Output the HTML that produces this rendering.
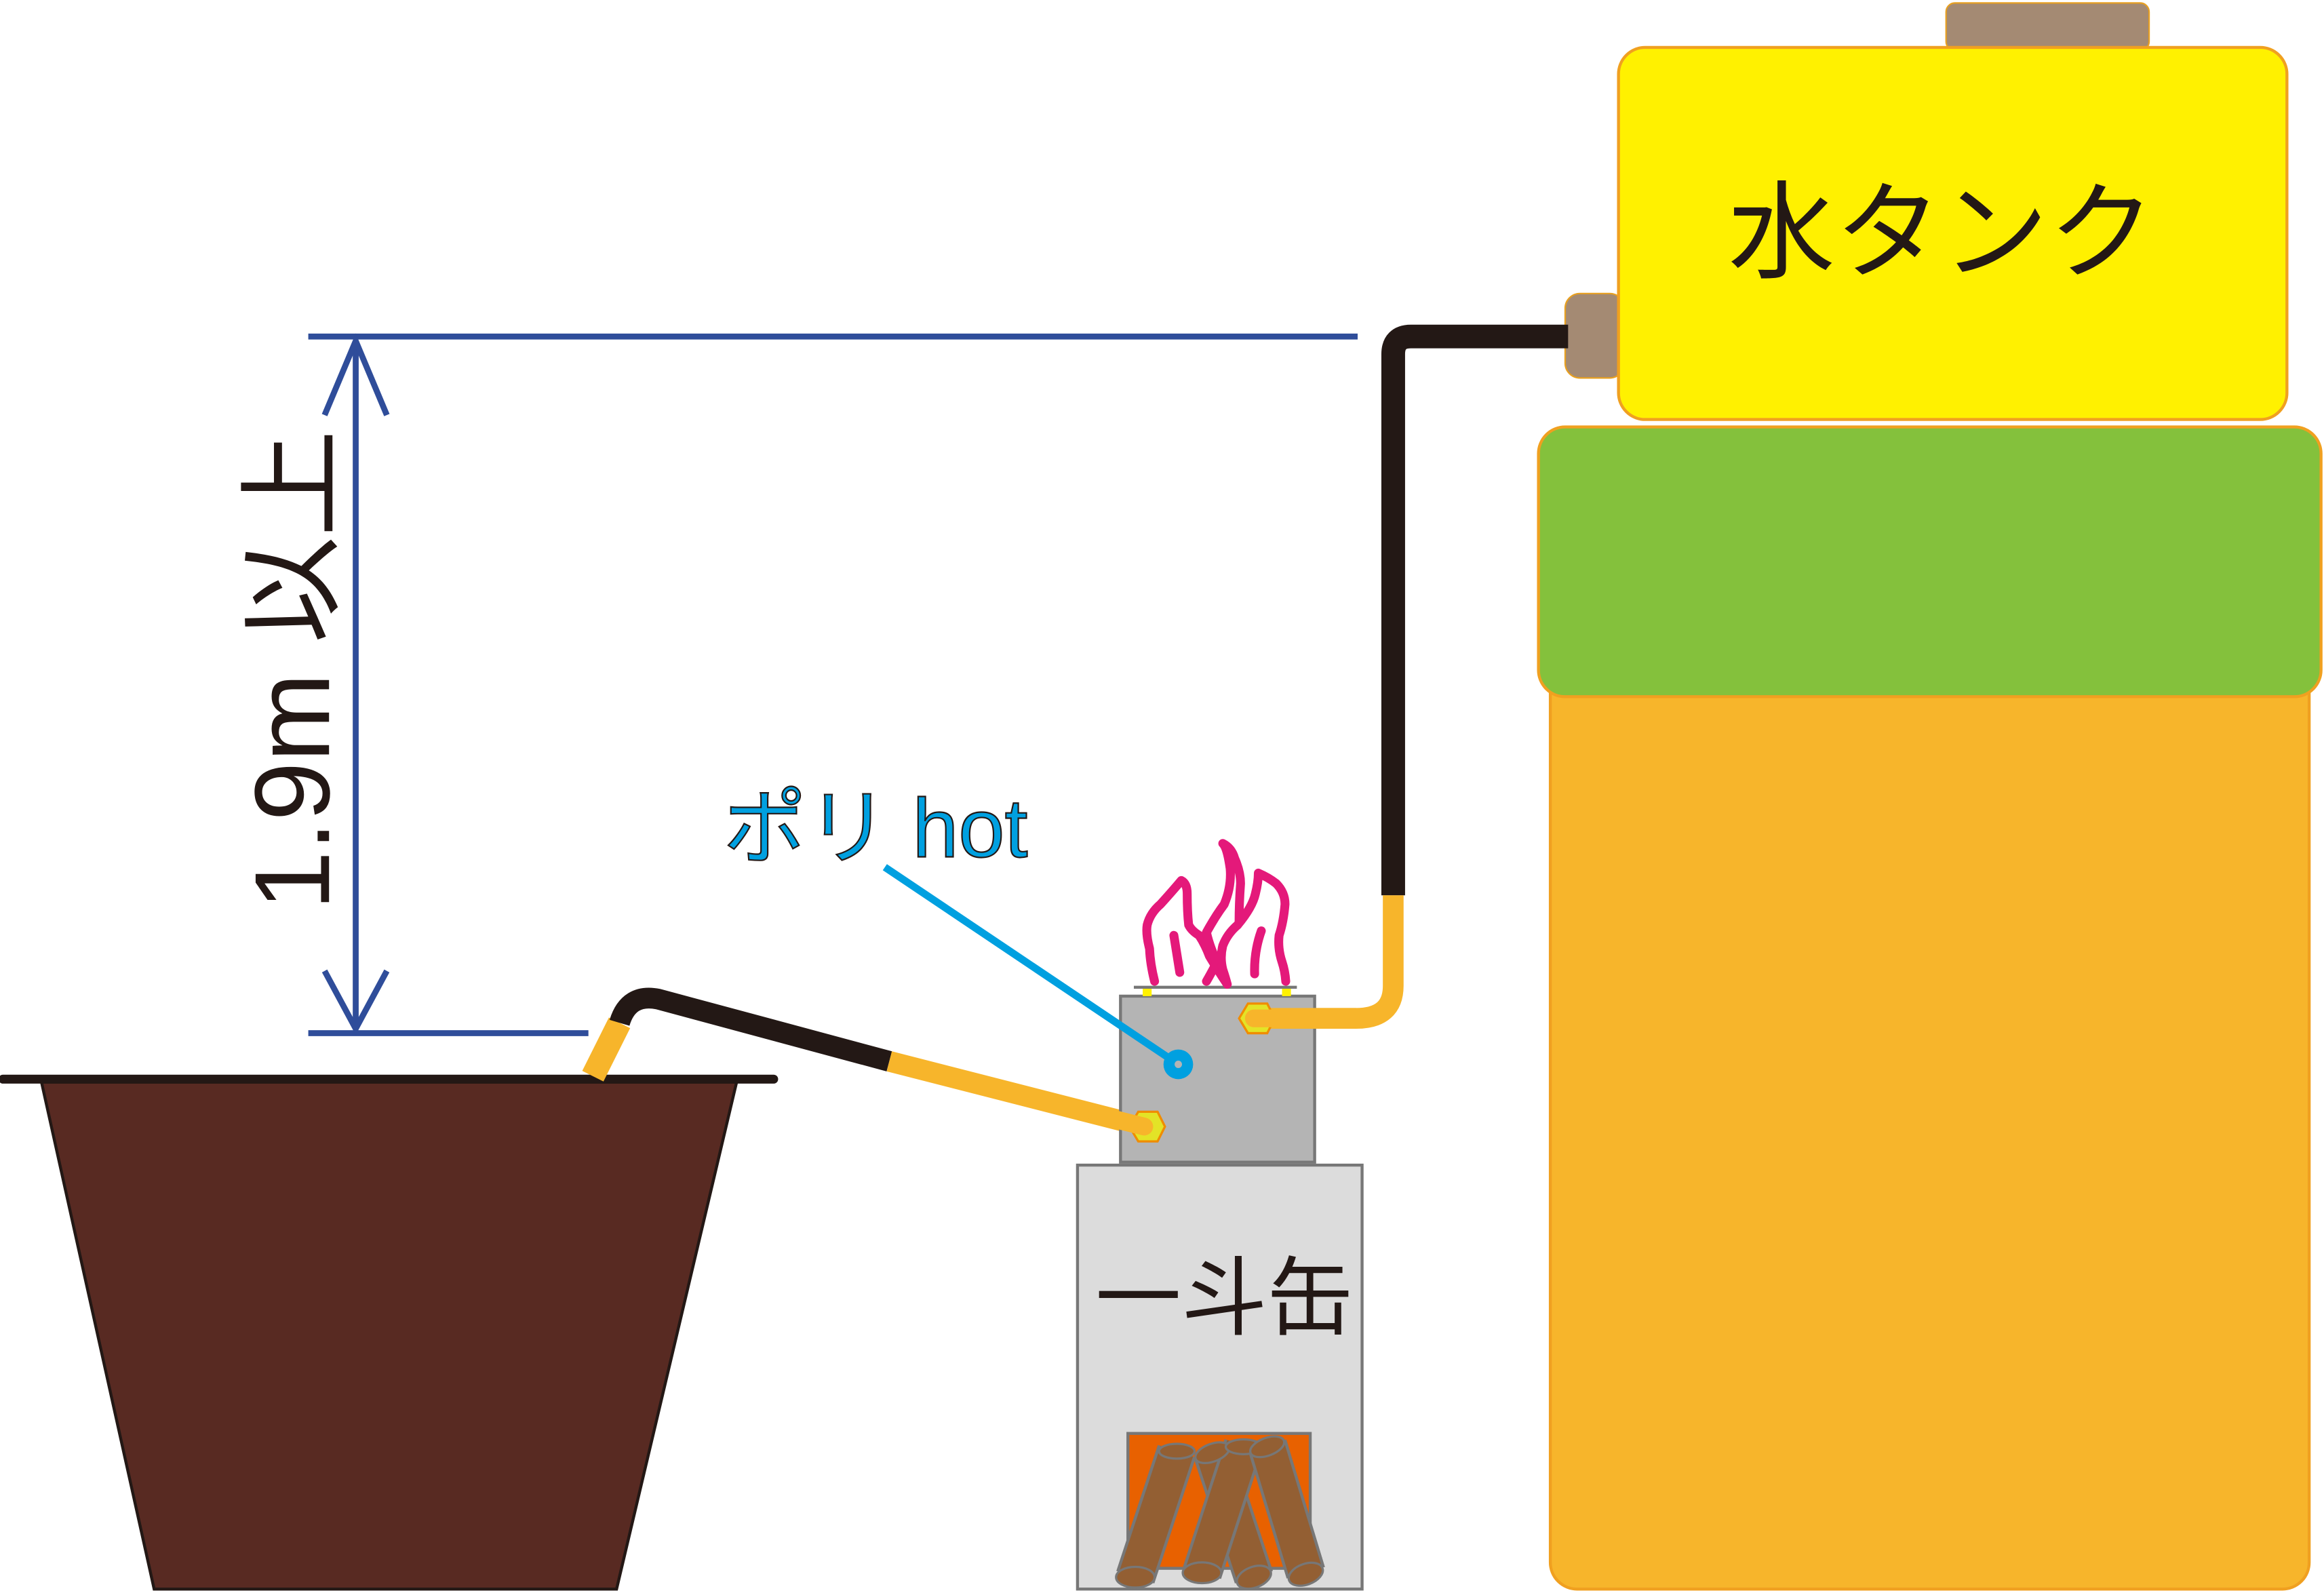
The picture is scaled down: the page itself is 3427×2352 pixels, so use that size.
<!DOCTYPE html>
<html><head><meta charset="utf-8"><style>html,body{margin:0;padding:0;background:#fff}svg{display:block}</style></head>
<body>
<svg width="3427" height="2352" viewBox="0 0 1568 1076" preserveAspectRatio="none" xmlns="http://www.w3.org/2000/svg">
<!-- tank -->
<rect x="1313" y="2" width="137" height="32" rx="6" fill="#a48a73" stroke="#e8a020" stroke-width="1"/>
<rect x="1056" y="198" width="40" height="57" rx="10" fill="#a48a73" stroke="#e8a020" stroke-width="1"/>
<rect x="1046" y="440" width="512" height="632" rx="18" fill="#f7b52b" stroke="#f0a020" stroke-width="2"/>
<rect x="1038" y="288" width="528" height="182" rx="18" fill="#84c13c" stroke="#f0a020" stroke-width="2"/>
<rect x="1092" y="32" width="451" height="251" rx="18" fill="#fff100" stroke="#f0a020" stroke-width="2"/>
<text x="1310" y="182" font-family="'Liberation Sans','Noto Sans CJK JP',sans-serif" font-size="72" text-anchor="middle" fill="#231815">水タンク</text>
<!-- black pipe -->
<path d="M1058 227 H952 Q940 227 940 239 V604" fill="none" stroke="#231815" stroke-width="16"/>
<path d="M940 604 V665 Q940 687 915 687 H846" fill="none" stroke="#f7b52b" stroke-width="14"/>
<!-- dimension -->
<g stroke="#2f4d9a" stroke-width="4" fill="none">
<line x1="208" y1="227" x2="916" y2="227"/>
<line x1="208" y1="697" x2="397" y2="697"/>
<line x1="240" y1="230" x2="240" y2="694"/>
<polyline points="219,280 240,230 261,280"/>
<polyline points="219,655 240,694 261,655"/>
</g>
<text transform="translate(222,452) rotate(-90)" font-family="'Liberation Sans','Noto Sans CJK JP',sans-serif" font-size="72" text-anchor="middle" fill="#231815">1.9m 以上</text>
<!-- pot -->
<polygon points="28,730 497,730 416,1072 104,1072" fill="#582a22" stroke="#231815" stroke-width="2"/>
<line x1="2" y1="728" x2="522" y2="728" stroke="#231815" stroke-width="6" stroke-linecap="round"/>
<!-- hose -->
<path d="M400 726 L418 690" stroke="#f7b52b" stroke-width="16" fill="none"/>
<path d="M418 690 Q424 670 444 674 L600 716" stroke="#231815" stroke-width="14" fill="none"/>
<path d="M600 716 L772 760" stroke="#f7b52b" stroke-width="14" fill="none"/>
<!-- lower can -->
<rect x="727" y="786" width="192" height="286" fill="#dcdcdc" stroke="#777" stroke-width="2"/>
<text x="826" y="896" font-family="'Liberation Sans','Noto Sans CJK JP',sans-serif" font-size="58" text-anchor="middle" fill="#231815">一斗缶</text>
<rect x="761" y="967" width="123" height="91" fill="#e86100" stroke="#777" stroke-width="2"/>
<g stroke-linecap="butt">
<line x1="818" y1="979" x2="846" y2="1064" stroke="#777" stroke-width="27"/><line x1="818" y1="979" x2="846" y2="1064" stroke="#935f33" stroke-width="23"/>
<line x1="794" y1="979" x2="766" y2="1064" stroke="#777" stroke-width="27"/><line x1="794" y1="979" x2="766" y2="1064" stroke="#935f33" stroke-width="23"/>
<line x1="839" y1="975" x2="811" y2="1061" stroke="#777" stroke-width="27"/><line x1="839" y1="975" x2="811" y2="1061" stroke="#935f33" stroke-width="23"/>
<line x1="855" y1="975" x2="881" y2="1061" stroke="#777" stroke-width="27"/><line x1="855" y1="975" x2="881" y2="1061" stroke="#935f33" stroke-width="23"/>
</g>
<g fill="#935f33" stroke="#777" stroke-width="1.5">
<ellipse cx="818" cy="980" rx="12" ry="6" transform="rotate(-20 818 980)"/>
<ellipse cx="846" cy="1064" rx="12" ry="7" transform="rotate(-20 846 1064)"/>
<ellipse cx="794" cy="979" rx="12" ry="5"/>
<ellipse cx="766" cy="1064" rx="13" ry="7"/>
<ellipse cx="839" cy="976" rx="12" ry="5"/>
<ellipse cx="811" cy="1061" rx="13" ry="7"/>
<ellipse cx="855" cy="976" rx="12" ry="6" transform="rotate(-20 855 976)"/>
<ellipse cx="881" cy="1062" rx="12" ry="7" transform="rotate(-20 881 1062)"/>
</g>
<!-- upper can -->
<rect x="756" y="672" width="131" height="112" fill="#b4b4b4" stroke="#777" stroke-width="2"/>
<line x1="765" y1="666" x2="875" y2="666" stroke="#777" stroke-width="2"/>
<rect x="771" y="667" width="6" height="5" fill="#fff100"/><rect x="865" y="667" width="6" height="5" fill="#fff100"/>
<path d="M846 687 H915" stroke="#f7b52b" stroke-width="14"/>
<polygon points="836,687 842,677 855,677 860,687 855,697 842,697" fill="#e3e327" stroke="#f08c00" stroke-width="1.5"/>
<line x1="846" y1="687" x2="880" y2="687" stroke="#f7b52b" stroke-width="12" stroke-linecap="round"/>
<polygon points="762,760 768,750 781,750 786,760 781,770 768,770" fill="#e3e327" stroke="#f08c00" stroke-width="1.5"/>
<line x1="740" y1="752" x2="772" y2="760" stroke="#f7b52b" stroke-width="12" stroke-linecap="round"/>
<!-- flames -->
<g fill="none" stroke="#e4197a" stroke-width="6" stroke-linecap="round" stroke-linejoin="round">
<path d="M779 662 Q776 650 775.6 640 Q773 630 774 624 Q776 616 783 610 Q792 600 797 594 Q801 596 801 603 Q801 615 802 624 Q804 628 809 631 Q813 637 816 645 Q822 655 828 664"/>
<path d="M814 662 Q818 655 821 649 Q816 638 814 629 Q820 618 826 610 Q831 598 830 586 Q828 572 825 569 Q831 572 833 579 Q837 588 837 596 Q836 610 836 622"/>
<path d="M835 624 Q828 630 825 638 Q823 646 825 654 Q827 660 828 664"/>
<path d="M835 624 Q845 612 847 603 Q849 595 849 589 Q856 592 861 596 Q867 602 867 610 Q866 622 863 631 Q862 640 865 649 Q867 655 867.5 662"/>
<path d="M792 631 L796 656"/>
<path d="M851 628 Q846 642 846.5 657"/>
</g>
<!-- poly hot -->
<line x1="597" y1="585" x2="795" y2="718" stroke="#00a0e0" stroke-width="5"/>
<circle cx="795" cy="718" r="10" fill="#00a0e0"/><circle cx="795" cy="718" r="2.5" fill="#b4b4b4"/>
<text x="488" y="578" font-family="'Liberation Sans','Noto Sans CJK JP',sans-serif" font-size="56" fill="#00a0e0" stroke="#231815" stroke-width="1">ポリ hot</text>
</svg>
</body></html>
